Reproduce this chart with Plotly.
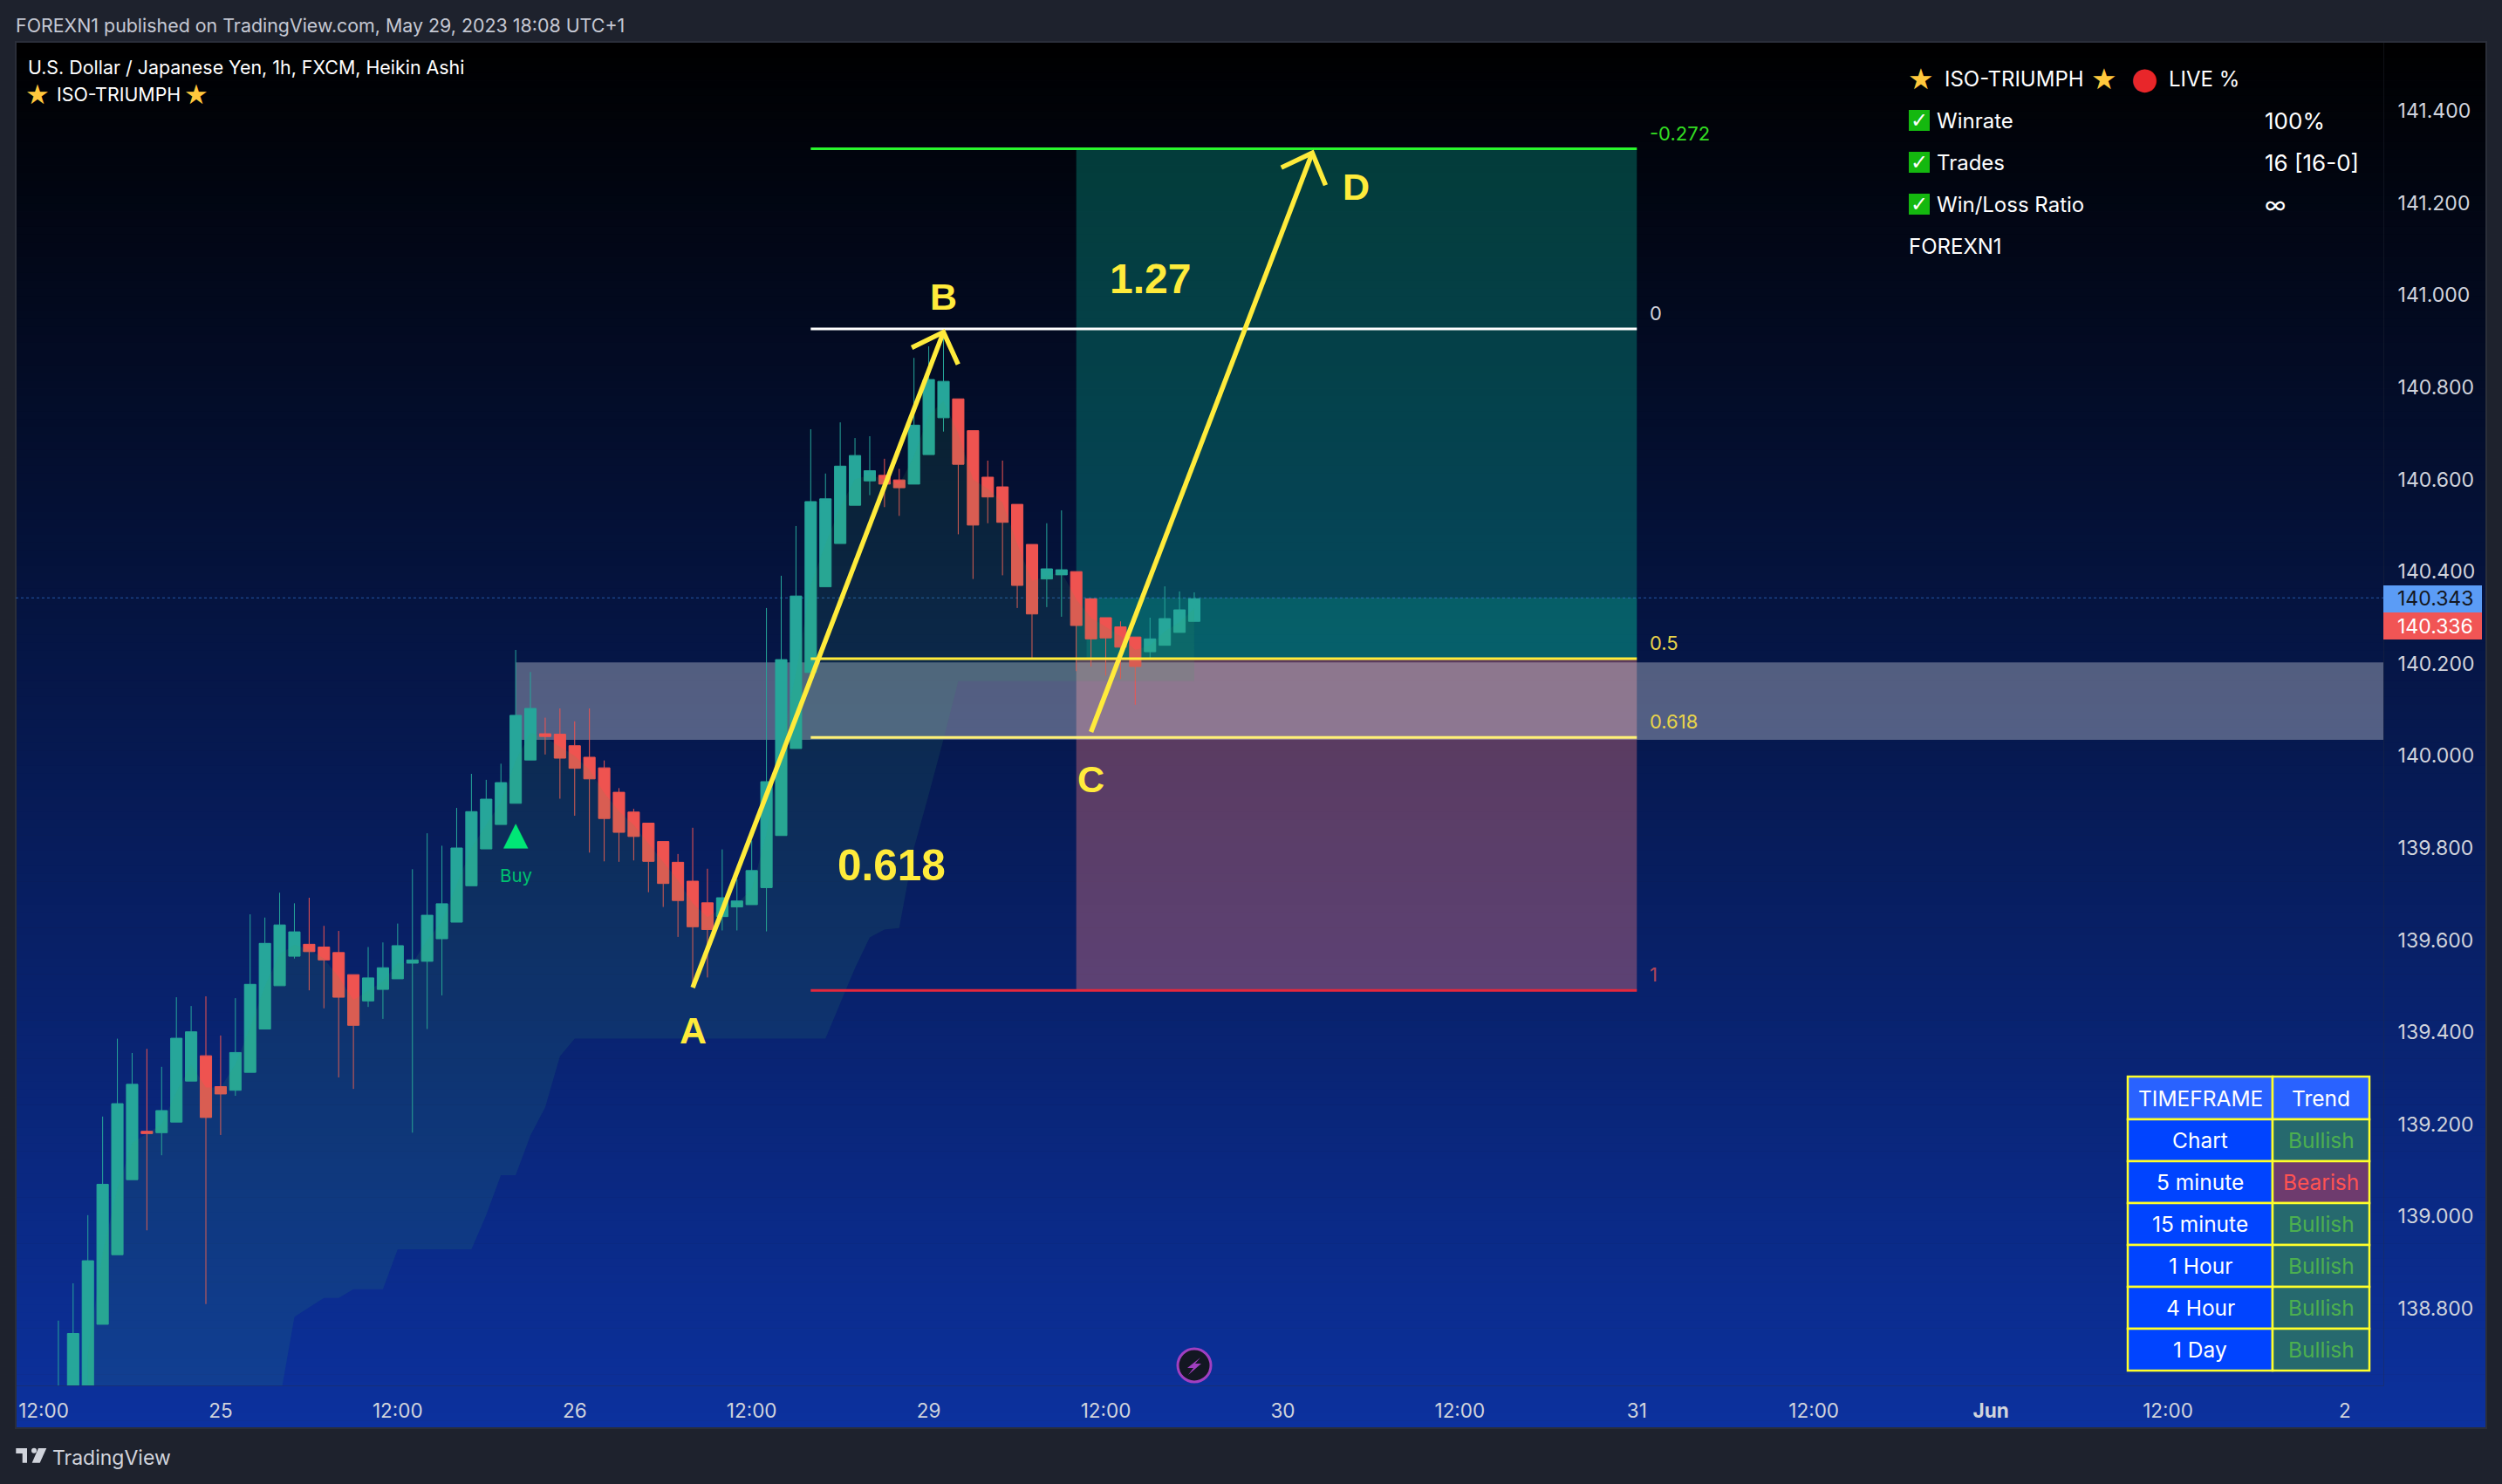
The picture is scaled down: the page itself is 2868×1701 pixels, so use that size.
import plotly.graph_objects as go

W, H = 2868, 1701

# ---- data ----
hours = list(range(1, 79))
opens = [138.55,138.60,138.62,138.766,138.917,139.080,139.185,139.182,139.205,139.294,139.349,139.282,139.274,139.313,139.407,139.501,139.565,139.591,139.585,139.573,139.525,139.468,139.493,139.516,139.550,139.554,139.603,139.639,139.718,139.798,139.851,139.897,139.991,140.048,140.047,140.022,139.997,139.974,139.921,139.878,139.854,139.814,139.769,139.728,139.681,139.651,139.672,139.677,139.714,139.827,140.016,140.181,140.367,140.461,140.544,140.597,140.609,140.599,140.590,140.654,140.734,140.775,140.706,140.605,140.584,140.546,140.459,140.384,140.393,140.400,140.341,140.300,140.280,140.258,140.226,140.240,140.268,140.292]
closes = [138.60,138.746,138.904,139.070,139.245,139.287,139.180,139.230,139.387,139.401,139.215,139.266,139.356,139.504,139.593,139.633,139.618,139.575,139.557,139.476,139.415,139.518,139.540,139.588,139.557,139.654,139.679,139.800,139.879,139.906,139.942,140.088,140.103,140.042,139.995,139.973,139.950,139.864,139.834,139.825,139.771,139.723,139.686,139.629,139.623,139.692,139.685,139.751,139.944,140.209,140.347,140.552,140.558,140.629,140.652,140.619,140.590,140.582,140.718,140.817,140.813,140.633,140.501,140.562,140.507,140.370,140.308,140.406,140.404,140.283,140.254,140.256,140.236,140.194,140.254,140.298,140.317,140.341]
highs = [138.774,138.855,139.003,139.217,139.386,139.355,139.364,139.325,139.476,139.457,139.478,139.393,139.474,139.656,139.649,139.703,139.680,139.692,139.631,139.620,139.525,139.585,139.595,139.636,139.754,139.832,139.805,139.887,139.961,139.948,139.983,140.230,140.182,140.083,140.103,140.075,140.103,139.990,139.930,139.885,139.854,139.814,139.787,139.844,139.755,139.797,139.732,139.816,140.321,140.391,140.499,140.709,140.613,140.724,140.690,140.694,140.645,140.623,140.864,140.889,140.910,140.775,140.706,140.641,140.641,140.546,140.459,140.505,140.533,140.400,140.341,140.300,140.292,140.258,140.300,140.368,140.357,140.355]
lows = [138.50,138.55,138.60,138.766,138.917,139.080,138.970,139.133,139.205,139.294,138.810,139.177,139.262,139.313,139.407,139.501,139.560,139.491,139.452,139.302,139.277,139.455,139.429,139.516,139.182,139.407,139.480,139.639,139.718,139.798,139.851,139.897,139.991,140.003,139.907,139.870,139.790,139.771,139.770,139.773,139.704,139.672,139.607,139.500,139.519,139.621,139.621,139.677,139.619,139.827,140.016,140.181,140.367,140.461,140.544,140.566,140.540,140.521,140.590,140.654,140.704,140.481,140.384,140.505,140.392,140.321,140.213,140.323,140.302,140.184,140.194,140.174,140.167,140.111,140.209,140.240,140.268,140.292]

cloud_hours = list(range(3, 79))
cloud_top = [138.70,138.92,139.06,139.16,139.18,139.20,139.27,139.33,139.28,139.28,139.33,139.41,139.50,139.57,139.59,139.58,139.56,139.52,139.47,139.49,139.51,139.55,139.55,139.60,139.64,139.72,139.80,139.85,139.90,139.99,140.05,140.04,140.02,140.00,139.97,139.92,139.88,139.85,139.81,139.77,139.73,139.68,139.65,139.67,139.68,139.71,139.83,140.02,140.18,140.37,140.46,140.54,140.60,140.61,140.60,140.59,140.65,140.74,140.77,140.70,140.60,140.58,140.55,140.46,140.38,140.39,140.40,140.34,140.30,140.28,140.26,140.23,140.24,140.27,140.29,140.32]
cloud_low = [138.5,138.5,138.5,138.5,138.5,138.5,138.5,138.5,138.5,138.5,138.5,138.5,138.5,138.6,138.782,138.803,138.823,138.823,138.842,138.842,138.842,138.929,138.929,138.929,138.929,138.929,138.929,139.003,139.090,139.090,139.176,139.237,139.348,139.386,139.386,139.386,139.386,139.386,139.386,139.386,139.386,139.386,139.386,139.386,139.386,139.386,139.386,139.386,139.386,139.386,139.386,139.463,139.539,139.606,139.623,139.626,139.800,139.916,140.036,140.162,140.162,140.162,140.162,140.162,140.162,140.162,140.162,140.162,140.162,140.162,140.162,140.162,140.162,140.162,140.162,140.162]

tick_hours = [0,12,24,36,48,60,72,84,96,108,120,132,144,156]
tick_labels = ["12:00","25","12:00","26","12:00","29","12:00","30","12:00","31","12:00","<b>Jun</b>","12:00","2"]
price_ticks = [138.8,139.0,139.2,139.4,139.6,139.8,140.0,140.2,140.4,140.6,140.8,141.0,141.2,141.4]

fib_start, fib_end = 52, 108
fib_levels = [141.318, 140.927, 140.211, 140.040, 139.491]
fib_names = ["-0.272", "0", "0.5", "0.618", "1"]
fib_colors = ["#29f52d", "#ffffff", "#ffeb3b", "#fff176", "#e6283c"]
fib_label_colors = ["#33dd22", "#d1d4dc", "#e8d44a", "#e8d44a", "#b2455a"]

wave_ab_x = [44, 61]; wave_ab_y = [139.497, 140.920]
head_b_x = [58.85, 61, 61.99]; head_b_y = [140.886, 140.920, 140.850]
wave_cd_x = [71, 86]; wave_cd_y = [140.052, 141.309]
head_d_x = [83.9, 86, 86.9]; head_d_y = [141.277, 141.309, 141.239]
wave_labels = [("A",44,139.404,43),("B",61,140.997,43),("C",71,139.95,43),("D",89,141.236,43),
               ("1.27",75,141.035,48),("0.618",57.5,139.764,49.5)]

last_price = 140.343
band_start = 32; band_top = 140.203; band_bottom = 140.035
box_start = 70; box_end = 108; entry = 140.211; target = 141.318; stop = 139.491
pnl_start = 70.7
buy_hour = 32; buy_price = 139.826; buy_text_price = 139.741

table_head = ["TIMEFRAME", "Trend"]
table_col1 = ["Chart","5 minute","15 minute","1 Hour","4 Hour","1 Day"]
table_col2 = ["Bullish","Bearish","Bullish","Bullish","Bullish","Bullish"]

# ---- geometry helpers ----
def fx(p): return p / W
def fy(p): return 1 - p / H

PANE_L, PANE_R, PANE_T, PANE_B = 18, 2850, 48, 1637
AXIS_R, AXIS_B = 2732, 1588
XR = [(18 - 50) / 16.91, (AXIS_R - 50) / 16.91]
YR = [138.8 + (1500 - AXIS_B) / 528, 138.8 + (1500 - PANE_T) / 528]

GOLD = "#ffc83d"
YEL = "#ffeb3b"
TXT = "#d1d4dc"

shapes = []
# background gradient of the pane
N = 180
c0 = (0, 0, 0); c1 = (12, 49, 158)
for i in range(N):
    t = (i + 0.5) / N
    col = "rgb(%d,%d,%d)" % tuple(round(a + (b - a) * t) for a, b in zip(c0, c1))
    y0 = PANE_T + (PANE_B - PANE_T) * i / N
    y1 = PANE_T + (PANE_B - PANE_T) * (i + 1) / N + 0.6
    shapes.append(dict(type="rect", xref="paper", yref="paper", x0=fx(PANE_L), x1=fx(PANE_R), y0=fy(y0), y1=fy(y1),
                       fillcolor=col, line_width=0, layer="below"))
shapes.append(dict(type="rect", xref="paper", yref="paper", x0=fx(PANE_L), x1=fx(PANE_R), y0=fy(PANE_T), y1=fy(PANE_B),
                   fillcolor="rgba(0,0,0,0)", line=dict(color="#2a2e39", width=2), layer="below"))
# boxes
shapes += [
    dict(type="rect", xref="x", yref="y", x0=box_start, x1=box_end, y0=entry, y1=target,
         fillcolor="rgba(8,153,135,0.38)", line_width=0, layer="below"),
    dict(type="rect", xref="x", yref="y", x0=box_start, x1=box_end, y0=stop, y1=entry,
         fillcolor="rgba(249,126,133,0.35)", line_width=0, layer="below"),
    dict(type="rect", xref="x", yref="y", x0=pnl_start, x1=box_end, y0=entry, y1=last_price,
         fillcolor="rgba(8,153,135,0.30)", line_width=0, layer="below"),
    dict(type="rect", xref="x", yref="y", x0=band_start, x1=XR[1], y0=band_bottom, y1=band_top,
         fillcolor="rgba(255,255,255,0.31)", line_width=0, layer="below"),
    dict(type="line", xref="x", yref="y", x0=XR[0], x1=XR[1], y0=last_price, y1=last_price,
         line=dict(color="rgba(60,130,230,0.6)", width=1, dash="dot"), layer="below"),
]
# price flags
shapes += [
    dict(type="rect", xref="paper", yref="paper", x0=fx(AXIS_R), x1=fx(2845), y0=fy(671), y1=fy(702), fillcolor="#5b9cf6", line_width=0),
    dict(type="rect", xref="paper", yref="paper", x0=fx(AXIS_R), x1=fx(2845), y0=fy(702), y1=fy(733), fillcolor="#f15555", line_width=0),
]
def poly(pts, color):
    path = "M " + " L ".join("%.5f,%.5f" % (fx(x), fy(y)) for x, y in pts) + " Z"
    return dict(type="path", xref="paper", yref="paper", path=path, fillcolor=color, line_width=0)
# TradingView logo
LOGO = "#d1d4dc"
shapes += [
    poly([(18.3,1660),(31,1660),(31,1676.7),(25.7,1676.7),(25.7,1666),(18.3,1666)], LOGO),
    poly([(44,1660),(53.3,1660),(45.7,1676.7),(36.7,1676.7)], LOGO),
    dict(type="circle", xref="paper", yref="paper", x0=fx(36), x1=fx(42), y0=fy(1659.7), y1=fy(1665.7), fillcolor=LOGO, line_width=0),
]
# lightning badge
shapes += [
    dict(type="circle", xref="paper", yref="paper", x0=fx(1350), x1=fx(1388), y0=fy(1546), y1=fy(1584), fillcolor="#131722",
         line=dict(color="#a13fc0", width=3)),
    poly([(1376,1556),(1361,1568),(1368,1568),(1362,1576),(1377,1563),(1370,1563)], "#a13fc0"),
]
# check boxes
for yc in (138, 186, 234):
    shapes.append(dict(type="rect", xref="paper", yref="paper", x0=fx(2188), x1=fx(2212), y0=fy(yc-12), y1=fy(yc+12),
                       fillcolor="#14b80f", line_width=0))

anns = []
def label(x, y, text, size, color=TXT, anchor="left", family="Inter"):
    anns.append(dict(xref="paper", yref="paper", x=fx(x), y=fy(y), text=text, showarrow=False, xanchor=anchor, yanchor="middle",
                     font=dict(family=family, size=size, color=color), borderpad=0, borderwidth=0))

label(18, 29, "FOREXN1 published on TradingView.com, May 29, 2023 18:08 UTC+1", 21.4, "#c5c8d3")
label(32, 77, "U.S. Dollar / Japanese Yen, 1h, FXCM, Heikin Ashi", 21.4, "#ffffff")
label(43, 108, "★", 31, GOLD, anchor="center", family="DejaVu Sans")
label(65, 108, "ISO-TRIUMPH", 21.4, "#ffffff")
label(225, 108, "★", 31, GOLD, anchor="center", family="DejaVu Sans")
label(2202, 90, "★", 33, GOLD, anchor="center", family="DejaVu Sans")
label(2229, 90, "ISO-TRIUMPH", 24, "#ffffff")
label(2412, 90, "★", 33, GOLD, anchor="center", family="DejaVu Sans")
label(2458, 90, "●", 35, "#e8262a", anchor="center", family="DejaVu Sans")
label(2486, 90, "LIVE %", 24, "#ffffff")
for yc, a, b in ((138, "Winrate", "100%"), (186, "Trades", "16 [16-0]"), (234, "Win/Loss Ratio", "∞")):
    label(2200, yc, "✓", 24, "#ffffff", anchor="center", family="DejaVu Sans")
    label(2220, yc, a, 24, "#ffffff")
    label(2596, yc, b, 26, "#ffffff")
label(2188, 282, "FOREXN1", 24, "#ffffff")
label(2748, 686.5, "140.343", 23, "#131722")
label(2748, 717.5, "140.336", 23, "#ffffff")
label(60, 1671, "TradingView", 23, TXT)

# timeframe table
TX = [2439, 2605, 2716]
TY = [1234, 1283, 1331, 1379, 1427, 1475, 1523, 1571]
TLINE = dict(color="#ffff2a", width=2.5)
def cell(x0, x1, y0, y1, fill):
    shapes.append(dict(type="rect", xref="paper", yref="paper", x0=fx(x0), x1=fx(x1), y0=fy(y0), y1=fy(y1), fillcolor=fill, line=TLINE))
for j in range(2):
    cell(TX[j], TX[j+1], TY[0], TY[1], "#2962ff")
    label((TX[j] + TX[j+1]) / 2, (TY[0] + TY[1]) / 2, table_head[j], 24.5, "#ffffff", anchor="center")
for i, (a, b) in enumerate(zip(table_col1, table_col2)):
    cell(TX[0], TX[1], TY[i+1], TY[i+2], "#0044ff")
    cell(TX[1], TX[2], TY[i+1], TY[i+2], "#26696e" if b == "Bullish" else "#6e3b6e")
    label((TX[0] + TX[1]) / 2, (TY[i+1] + TY[i+2]) / 2, a, 24.5, "#ffffff", anchor="center")
    label((TX[1] + TX[2]) / 2, (TY[i+1] + TY[i+2]) / 2, b, 24.5, "#4caf50" if b == "Bullish" else "#ff5252", anchor="center")

for name, lvl, col in zip(fib_names, fib_levels, fib_label_colors):
    anns.append(dict(xref="paper", yref="y", x=fx(1889), y=lvl, yshift=18, text=name, showarrow=False, xanchor="left", yanchor="middle",
                     font=dict(family="Inter", size=22, color=col)))
for t, hx, py, s in wave_labels:
    anns.append(dict(xref="x", yref="y", x=hx, y=py, text="<b>%s</b>" % t, showarrow=False, xanchor="center", yanchor="middle",
                     font=dict(family="Liberation Sans", size=s, color=YEL)))
anns.append(dict(xref="x", yref="y", x=buy_hour, y=buy_text_price, text="Buy", showarrow=False, font=dict(family="Inter", size=20.5, color="#00c070")))

fig = go.Figure()
fig.add_trace(go.Scatter(x=cloud_hours, y=cloud_low, mode="lines", line=dict(width=0), hoverinfo="skip", showlegend=False))
fig.add_trace(go.Scatter(x=cloud_hours, y=cloud_top, mode="lines", line=dict(width=0), fill="tonexty",
                         fillcolor="rgba(60,170,100,0.12)", hoverinfo="skip", showlegend=False))
fig.add_trace(go.Candlestick(x=hours, open=opens, high=highs, low=lows, close=closes, whiskerwidth=0,
                             increasing=dict(line=dict(color="#26a69a", width=1), fillcolor="#26a69a"),
                             decreasing=dict(line=dict(color="#ef5350", width=1), fillcolor="#ef5350"),
                             hoverinfo="skip", showlegend=False))
for lvl, col in zip(fib_levels, fib_colors):
    fig.add_trace(go.Scatter(x=[fib_start, fib_end], y=[lvl, lvl], mode="lines", line=dict(color=col, width=3), hoverinfo="skip", showlegend=False))
for xs, ys in ((wave_ab_x, wave_ab_y), (head_b_x, head_b_y), (wave_cd_x, wave_cd_y), (head_d_x, head_d_y)):
    fig.add_trace(go.Scatter(x=xs, y=ys, mode="lines", line=dict(color=YEL, width=5.5), hoverinfo="skip", showlegend=False))
fig.add_trace(go.Scatter(x=[buy_hour], y=[buy_price], mode="text", text=["▲"], textposition="middle center",
                         textfont=dict(family="DejaVu Sans", size=37, color="#00e676"), hoverinfo="skip", showlegend=False))

fig.update_layout(
    width=W, height=H, margin=dict(l=0, r=0, t=0, b=0), autosize=False,
    paper_bgcolor="#1e222d", plot_bgcolor="rgba(0,0,0,0)", boxgap=0.14, boxgroupgap=0.1,
    shapes=shapes, annotations=anns, showlegend=False, hovermode=False,
    xaxis=dict(domain=[fx(PANE_L), fx(AXIS_R)], range=XR, tickmode="array", tickvals=tick_hours, ticktext=tick_labels,
               showgrid=False, zeroline=False, showline=True, linecolor="rgba(42,46,57,0.35)", ticks="",
               tickfont=dict(family="Inter", size=22.5, color=TXT), ticklabelstandoff=9, rangeslider=dict(visible=False), anchor="y"),
    yaxis=dict(domain=[fy(AXIS_B), fy(PANE_T)], range=YR, side="right", tickmode="array", tickvals=price_ticks,
               ticktext=["%.3f" % v for v in price_ticks], showgrid=False, zeroline=False, showline=True,
               linecolor="rgba(42,46,57,0.35)", ticks="", tickfont=dict(family="Inter", size=23, color=TXT), ticklabelstandoff=11, anchor="x"),
)
fig.write_html("out.html", config=dict(displayModeBar=False),
               post_script="document.body.style.margin='0';document.body.style.background='#1e222d';")
